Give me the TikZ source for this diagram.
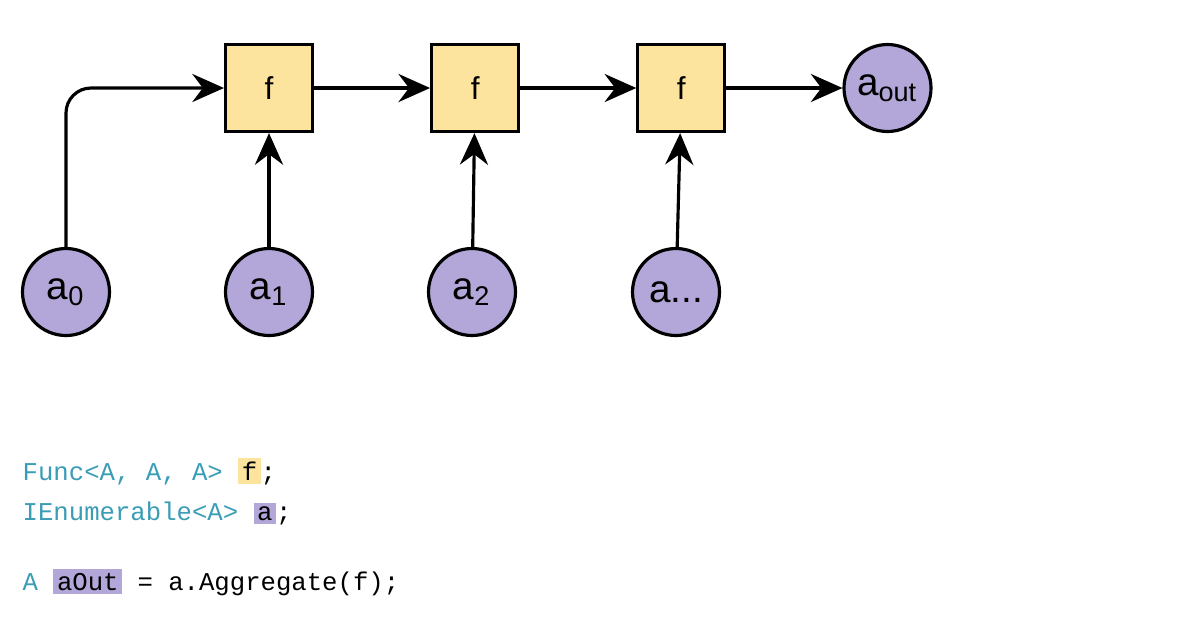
\documentclass[tikz,border=0pt]{standalone}
\usepackage{fontspec}
\setmainfont{Liberation Sans}
\setmonofont{Liberation Mono}
\usetikzlibrary{arrows.meta,positioning}
\definecolor{fyellow}{HTML}{FDE49E}
\definecolor{apurple}{HTML}{B3A6D8}
\definecolor{ctype}{HTML}{3A9DB5}
\tikzset{
  func/.style={draw, line width=0.9pt, fill=fyellow, minimum size=0.87cm, font=\fontsize{9}{9}\selectfont},
  elem/.style={circle, draw, line width=0.9pt, fill=apurple, minimum size=0.87cm, inner sep=0pt, font=\fontsize{11}{11}\selectfont},
  flow/.style={line width=0.9pt, -{Stealth[length=9pt, width=8pt, inset=3pt]}},
  code/.style={anchor=base west, inner sep=0pt, font=\ttfamily\fontsize{7.3}{7.3}\selectfont}
}
\newcommand{\ty}[1]{\textcolor{ctype}{#1}}
\setlength{\fboxsep}{1pt}
\begin{document}
\begin{tikzpicture}
    \useasboundingbox (0,0) rectangle (11.96,6.28);

    % Functions
    \node[func] (f1) at (2.69,5.40) {f};
    \node[func, right=1.16cm of f1] (f2) {f};
    \node[func, right=1.16cm of f2] (f3) {f};
    \node[elem, right=1.16cm of f3] (aout) {a\textsubscript{out}};

    % Elements
    \node[elem] (a0) at (0.66,3.36) {a\textsubscript{0}};
    \node[elem] (a1) at (2.69,3.36) {a\textsubscript{1}};
    \node[elem] (a2) at (4.72,3.36) {a\textsubscript{2}};
    \node[elem] (a3) at (6.76,3.36) {a...};

    % Arrows
    \draw[flow, rounded corners=0.25cm] (a0.north) |- (f1.west);
    \draw[flow] (f1) -- (f2);
    \draw[flow] (f2) -- (f3);
    \draw[flow] (f3) -- (aout);
    \draw[flow] (a1) -- (f1);
    \draw[flow] (a2) -- (f2);
    \draw[flow] (a3) -- (f3);

    % Code
    \node[code] (line1) at (0.22,1.48) {\ty{Func<A, A, A>}  \colorbox{fyellow}{f};};
    \node[code] (line2) at (0.22,1.08) {\ty{IEnumerable<A>} \colorbox{apurple}{a};};
    \node[code] (line3) at (0.22,0.38) {\ty{A} \colorbox{apurple}{aOut} = a.Aggregate(f);};
\end{tikzpicture}
\end{document}
